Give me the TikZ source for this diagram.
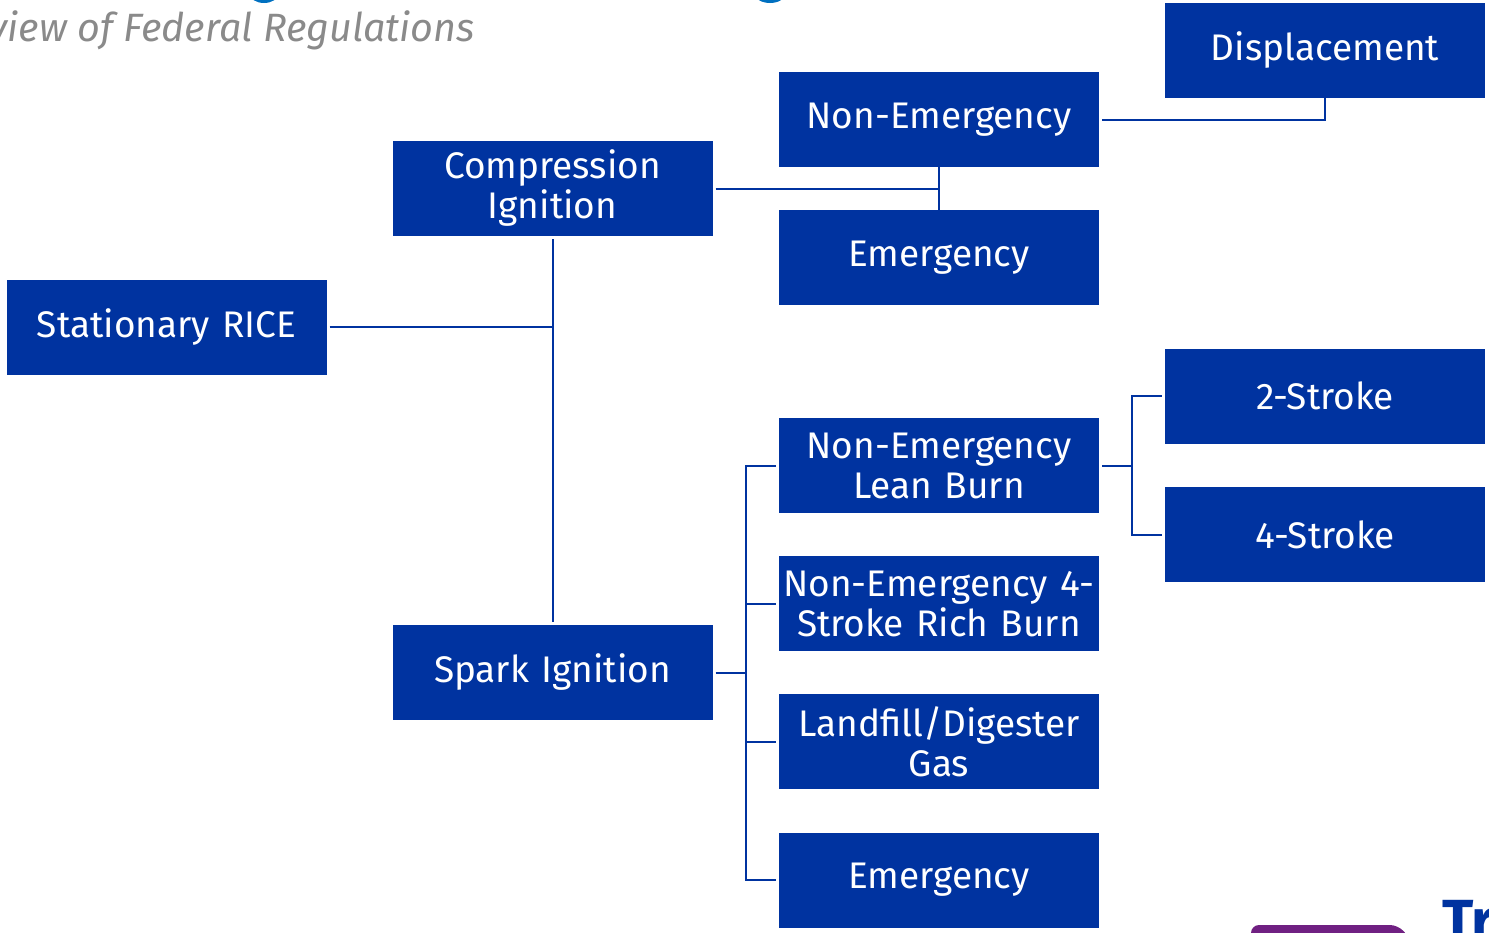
\documentclass[tikz,border=0pt]{standalone}
\usepackage{fontspec}
\setmainfont{Fira Sans}
\definecolor{boxblue}{RGB}{0,51,160}
\definecolor{titleblue}{RGB}{0,112,192}
\definecolor{subgray}{RGB}{138,138,138}
\definecolor{logopurple}{RGB}{112,32,130}
\begin{document}
\begin{tikzpicture}[x=1pt,y=-1pt,
  box/.style={fill=boxblue,draw=none,minimum width=320pt,minimum height=95pt,
    inner sep=0pt,text=white,font=\fontsize{37}{40}\selectfont,align=center,text width=318pt},
  conn/.style={draw=boxblue,line width=2pt}]
\useasboundingbox (0,0) rectangle (1489,932);
\begin{scope}
\clip (0,0) rectangle (1489,932);
% fragments of title and logo cut off by the frame
\fill[titleblue] (264,-6) ellipse (14pt and 9pt);
\fill[titleblue] (770,-6) ellipse (15pt and 9pt);
\fill[logopurple, rounded corners=8pt] (1251,925) -- (1398,925) -- (1416,945) -- (1251,945) -- cycle;
\node[anchor=base west,inner sep=0pt,text=boxblue,font=\fontsize{58}{60}\selectfont\bfseries] (tr) at (1442,940) {Tr};
\node[anchor=base east,inner sep=0pt,text=subgray,font=\fontsize{39.5}{42}\selectfont\itshape] (sub) at (475,41) {Overview of Federal Regulations};
\end{scope}

\node[box] (disp) at (1325,50.5) {Displacement};
\node[box] (ne) at (939,119.5) {Non-Emergency};
\node[box] (ci) at (552.5,188.5) {Compression\\Ignition};
\node[box] (em1) at (939,257.5) {Emergency};
\node[box] (rice) at (166.5,327) {Stationary RICE};
\node[box] (s2) at (1325,396) {2-Stroke};
\node[box] (nelb) at (939,465.5) {Non-Emergency\\Lean Burn};
\node[box] (s4) at (1325,534.5) {4-Stroke};
\node[box] (nerb) at (939,603.5) {Non-Emergency 4-\\Stroke Rich Burn};
\node[box] (si) at (552.5,672.5) {Spark Ignition};
\node[box] (lfg) at (939,741.5) {Landfill/Digester\\Gas};
\node[box] (em2) at (939,880) {Emergency};

% connectors
\draw[conn] ([xshift=3pt]rice.east) -- (552,327);
\draw[conn] ([yshift=-3pt]ci.south) -- ([yshift=3pt]si.north);
\draw[conn] ([xshift=3pt]ci.east) -- (939,188.5);
\draw[conn] ([yshift=3pt]ne.south) -- ([yshift=-3pt]em1.north);
\draw[conn] ([xshift=3pt]ne.east) -- (1325,119.5) -- ([yshift=3pt]disp.south);
\coordinate (sij) at (746,672.5);
\draw[conn] ([xshift=3pt]si.east) -- (sij);
\draw[conn] ([xshift=-3pt]nelb.west) -| (746,880) -- ([xshift=-3pt]em2.west);
\draw[conn] (746,603.5) -- ([xshift=-3pt]nerb.west);
\draw[conn] (746,741.5) -- ([xshift=-3pt]lfg.west);
\draw[conn] ([xshift=3pt]nelb.east) -- (1132,465.5);
\draw[conn] ([xshift=-3pt]s2.west) -| (1132,534.5) -- ([xshift=-3pt]s4.west);
\end{tikzpicture}
\end{document}
